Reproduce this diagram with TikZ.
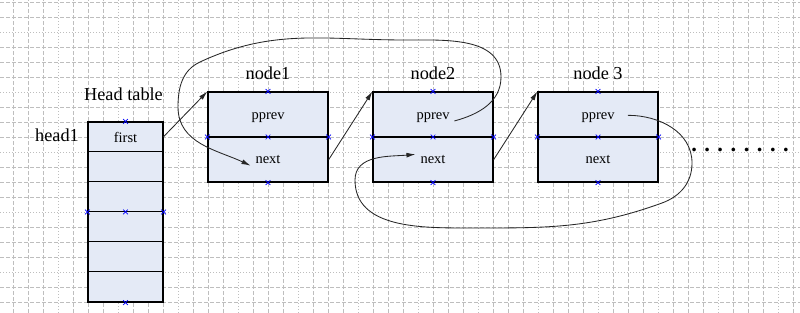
\documentclass[tikz,border=0pt]{standalone}
\usepackage{fontspec}
\setmainfont{Liberation Serif}
\usepackage{xcolor}
\usepackage{tikz}
\usetikzlibrary{positioning,shapes.misc,arrows.meta,calc}
\definecolor{boxfill}{RGB}{228,234,246}
\definecolor{gridgray}{RGB}{190,190,190}

\tikzset{
  box/.style={draw, fill=boxfill, line width=0.8pt, inner sep=0pt},
  xmark/.style={cross out, draw=blue, line width=0.5pt, inner sep=0pt, minimum size=0.1cm},
  link/.style={-{Latex[length=6.5pt,width=3.5pt]}, line width=0.6pt, black!85},
  lbl/.style={font=\fontsize{13}{15}\selectfont},
  fld/.style={font=\fontsize{10.3}{12}\selectfont},
  gdash/.style={gridgray, line width=0.6pt, dash pattern=on 0.1cm off 0.05cm},
  gdot/.style={gridgray, line width=0.6pt, dash pattern=on 0.025cm off 0.05cm},
}

\begin{document}
\begin{tikzpicture}[x=0.025cm, y=0.025cm]
    \useasboundingbox (0,0) rectangle (800,313);
    \fill[white] (0,0) rectangle (800,313);
    % 背景网格
    \foreach \i in {0,...,52} {
        \pgfmathtruncatemacro\r{mod(\i,4)}
        \ifnum\r=3 \draw[gdot] (13+15*\i,0) -- (13+15*\i,313);
        \else \draw[gdash] (13+15*\i,0) -- (13+15*\i,313); \fi
    }
    \foreach \j in {0,...,20} {
        \pgfmathtruncatemacro\r{mod(\j,4)}
        \ifnum\r=2 \draw[gdot] (0,11+15*\j) -- (800,11+15*\j);
        \else \draw[gdash] (0,11+15*\j) -- (800,11+15*\j); \fi
    }
    % 头表
    \node[box, minimum width=1.875cm, minimum height=4.5cm] (head) at (125.5,101) {};
    \foreach \k in {1,...,5} {
        \draw[line width=0.8pt] (head.north west) ++(0,-30*\k) -- ++(75,0);
    }
    \node[fld, minimum width=1.875cm, minimum height=0.75cm] (first) at (125.5,176) {first};
    \node[lbl, anchor=base] (headtab) at (123.5,212) {Head table};
    \node[lbl, anchor=base] (head1) at (57,171) {head1};
    % 链表结点
    \foreach \n/\x/\t in {1/268/node1, 2/433/node2, 3/598/node 3} {
        \node[box, minimum width=3cm, minimum height=2.25cm] (node\n) at (\x,176) {};
        \draw[line width=0.8pt] (node\n.west) -- (node\n.east);
        \node[fld, anchor=base] (pprev\n) at (\x,193) {pprev};
        \node[fld, anchor=base] (next\n) at (\x,149) {next};
        \node[lbl, anchor=base] (lab\n) at (\x,233) {\t};
    }
    % 蓝色标记
    \foreach \n in {head,node1,node2,node3} {
        \foreach \a in {north,south,west,center,east} {
            \node[xmark] (\n-\a) at (\n.\a) {};
        }
    }
    % next 指针
    \draw[link] (first.east) -- (node1.north west);
    \draw[link] ($(node1.east)!0.5!(node1.south east)$) -- (node2.north west);
    \draw[link] ($(node2.east)!0.5!(node2.south east)$) -- (node3.north west);
    % pprev 指针
    \draw[link] ([yshift=-2pt]pprev2.east) to[out=15,in=-90] (501,236)
        to[out=90,in=0] (405,273) to[out=180,in=25] (200,251)
        to[out=205,in=90] (178,206) to[out=-90,in=155] ([yshift=-4pt]next1.west);
    \draw[link] ([xshift=6pt,yshift=2pt]pprev3.east) to[out=0,in=90] (692,150)
        to[out=-90,in=20] (662,110) to[out=200,in=0] (470,85)
        to[out=180,in=-90] (355,133) to[out=90,in=185] ([yshift=4pt]next2.west);
    \node[font=\fontsize{16}{16}\selectfont\bfseries, anchor=base] (dots) at (740,161) {. . . . . . . .};
\end{tikzpicture}
\end{document}
